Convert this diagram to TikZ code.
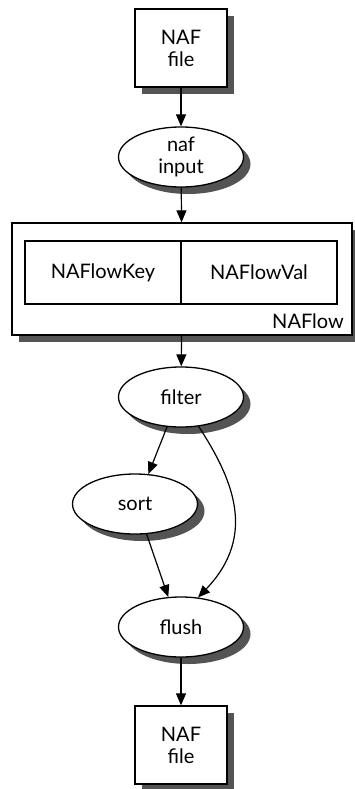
\documentclass[tikz,border=0pt]{standalone}
\usepackage{fontspec}
\setmainfont{Lato}
\usetikzlibrary{arrows.meta,shapes.geometric,positioning}
\tikzset{filebox/.style={draw,rectangle,fill=white,line width=1.3pt,minimum width=92pt,minimum height=78pt,align=center},
    procoval/.style={draw,ellipse,fill=white,line width=1.3pt,minimum width=125pt,minimum height=60pt,align=center,inner sep=0},
    recordbox/.style={draw,rectangle,fill=white,line width=1.3pt,minimum width=340pt,minimum height=112pt},
    fieldbox/.style={draw,rectangle,line width=1.3pt,minimum width=156pt,minimum height=63pt},
    flowarrow/.style={-{Triangle[length=12pt,width=10pt]},line width=1.2pt},
    shadecolor/.style={fill=black!67}
}
\newcommand{\shadebox}[3]
{
% args: (centre coordinate, width, height)
    \fill [shadecolor] ([shift={(7pt-#2/2,-7pt-#3/2)}]#1) rectangle ([shift={(7pt+#2/2,-7pt+#3/2)}]#1);
}

\begin{document}
\begin{tikzpicture}[x=1pt,y=-1pt,font=\fontsize{20}{22}\selectfont]

\useasboundingbox (0,0) rectangle (355,789);

\coordinate (fileInPos) at (181,48);
\coordinate (naflowPos) at (182,279);
\coordinate (fileOutPos) at (181,745);

% shadows
\shadebox{fileInPos}{92pt}{78pt}
\shadebox{naflowPos}{340pt}{112pt}
\shadebox{fileOutPos}{92pt}{78pt}
\fill [shadecolor] (188,164) ellipse (62.5pt and 30pt);
\fill [shadecolor] (188,404) ellipse (62.5pt and 30pt);
\fill [shadecolor] (142,511) ellipse (62.5pt and 30pt);
\fill [shadecolor] (188,634) ellipse (62.5pt and 30pt);

\node (fileIn) [filebox] at (fileInPos) {NAF\\file};
\node (nafInput) [procoval] at (181,157) {naf\\input};

% record
\node (naflow) [recordbox] at (naflowPos) {};
\node (flowKey) [fieldbox] at (103,272.5) {NAFlowKey};
\node (flowVal) [fieldbox] at (259,272.5) {NAFlowVal};
\node (naflowLabel) [anchor=base east,inner sep=0] at (344,328) {NAFlow};

\node (filter) [procoval] at (181,397) {filter};
\node (sort) [procoval] at (135,504) {sort};
\node (flush) [procoval] at (181,627) {flush};
\node (fileOut) [filebox] at (fileOutPos) {NAF\\file};

\draw [flowarrow] (fileIn) -- (nafInput);
\draw [flowarrow] (nafInput) -- (naflow);
\draw [flowarrow] (naflow) -- (filter);
\draw [flowarrow] (filter.-115) -- (sort.66);
\draw [flowarrow] (filter.-59) .. controls (232,478) and (258,535) .. (flush.60);
\draw [flowarrow] (sort.-69) -- (flush.113);
\draw [flowarrow] (flush) -- (fileOut);

\end{tikzpicture}
\end{document}
